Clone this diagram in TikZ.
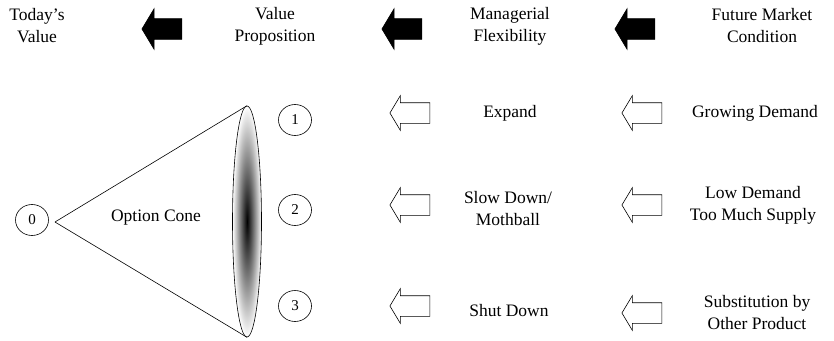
\documentclass[tikz,border=0pt]{standalone}
\usepackage{fontspec}
\setmainfont{Liberation Serif}
\usetikzlibrary{shapes.geometric, shapes.arrows}
\tikzstyle{txtNode} = [align=center, font=\fontsize{17.5}{22}\selectfont, inner sep=0pt]
\tikzstyle{numNode} = [ellipse, draw=black, minimum width=33pt, minimum height=31pt, inner sep=0pt, font=\fontsize{15}{15}\selectfont]
\tikzstyle{arrNode} = [single arrow, shape border rotate=180, draw=black, inner sep=0pt, text height=10pt, text depth=10pt, text width=0pt, minimum height=40pt, single arrow tip angle=118]
\tikzstyle{arrowK} = [arrNode, fill=black, single arrow head extend=10pt]
\tikzstyle{arrowW} = [arrNode, fill=white, single arrow head extend=7pt]

\begin{document}
\begin{tikzpicture}[x=1pt, y=-1pt, line width=0.6pt]
        \useasboundingbox (0,0) rectangle (834,340);
        % header row
        \node (today) [txtNode] at (37,26) {Today's\\Value};
        \node (valprop) [txtNode] at (275,26) {Value\\Proposition};
        \node (flex) [txtNode] at (510,26) {Managerial\\Flexibility};
        \node (market) [txtNode] at (762,26) {Future Market\\Condition};
        \node (bArr1) [arrowK] at (165,29) {};
        \node (bArr2) [arrowK] at (405,29) {};
        \node (bArr3) [arrowK] at (638,29) {};

        % option cone
        \node (n0) [numNode] at (32,220) {0};
        \coordinate (apex) at (55,222);
        \node (lens) [ellipse, draw=black, minimum width=29pt, minimum height=231pt, inner color=black, outer color=white] at (247,221.5) {};
        \draw (apex) -- (lens.north);
        \draw (apex) -- (lens.south);
        \node (cone) [txtNode] at (156,218) {Option Cone};
        \node (n1) [numNode] at (295,120) {1};
        \node (n2) [numNode] at (295,210) {2};
        \node (n3) [numNode] at (295,306) {3};

        % flexibility column
        \node (wArr1) [arrowW] at (413,113) {};
        \node (wArr2) [arrowW] at (413,205) {};
        \node (wArr3) [arrowW] at (413,306) {};
        \node (expand) [txtNode] at (510,113) {Expand};
        \node (slow) [txtNode] at (508,209) {Slow Down/\\Mothball};
        \node (shut) [txtNode] at (509,311) {Shut Down};

        % market column
        \node (wArr4) [arrowW] at (645,113) {};
        \node (wArr5) [arrowW] at (645,205) {};
        \node (wArr6) [arrowW] at (645,313) {};
        \node (growing) [txtNode] at (755,113) {Growing Demand};
        \node (low) [txtNode] at (753,205) {Low Demand\\Too Much Supply};
        \node (subst) [txtNode] at (757,313) {Substitution by\\Other Product};
\end{tikzpicture}
\end{document}
